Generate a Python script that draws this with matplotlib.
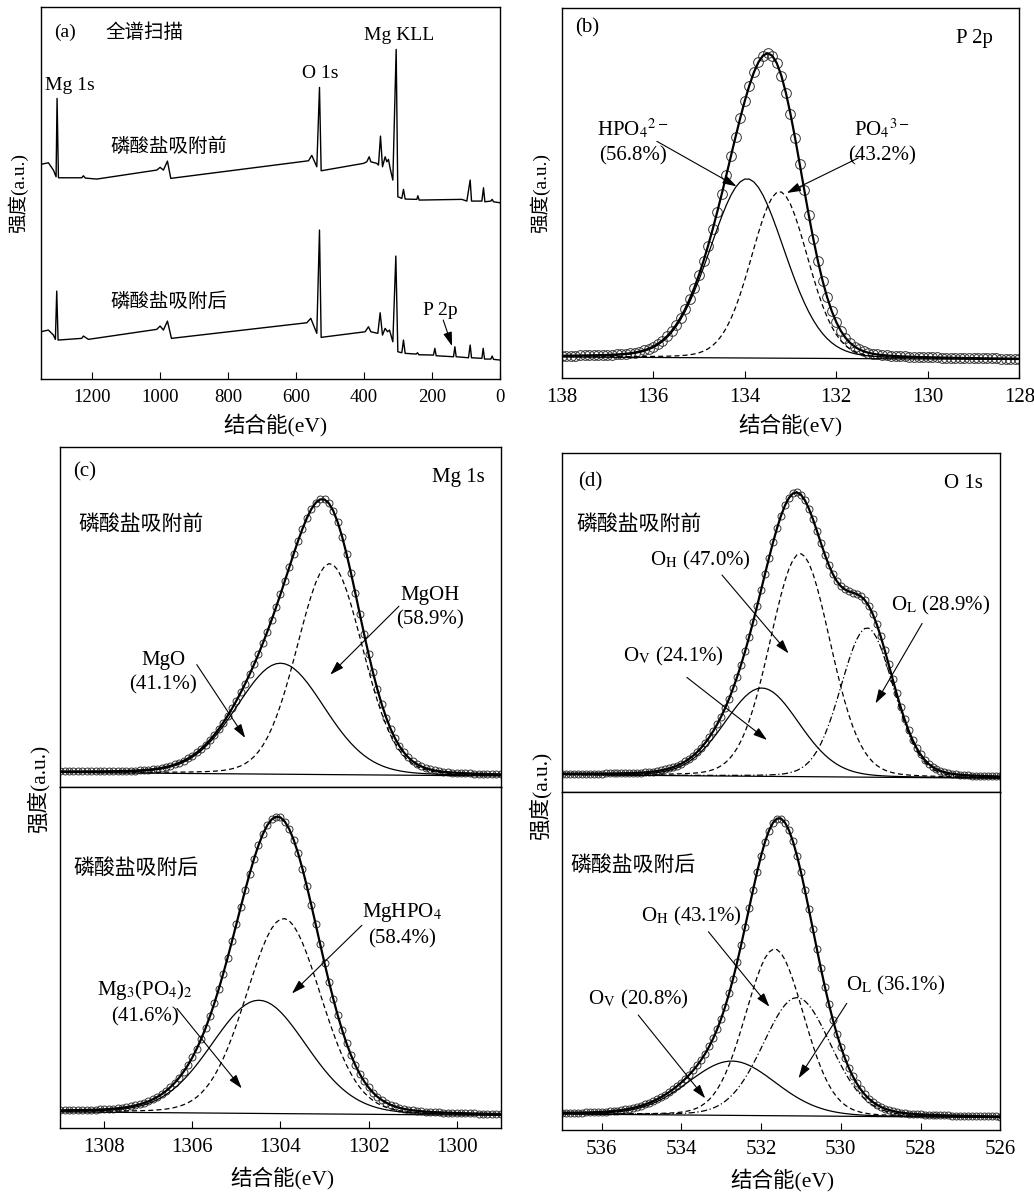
import matplotlib.pyplot as plt
import numpy as np

plt.rcParams["font.family"] = ["Liberation Serif", "Noto Sans CJK SC"]
plt.rcParams["mathtext.fontset"] = "stix"
plt.rcParams["font.size"] = 14
plt.rcParams["axes.linewidth"] = 1.0

# (a) survey spectra, vertices (eV, a.u.)
survey_before_ev = [1350, 1327.5, 1312.8, 1304.9, 1302, 1298, 1229.5, 1224.6, 1219, 1185.4,
                    1009, 999.2, 989.4, 977.6, 967.8, 563, 553.3, 538.6, 530.7, 525.8,
                    401.4, 391.6, 384.7, 379.8, 362.2, 357.3, 351.4, 345.5, 337.7, 332.8,
                    327.9, 323, 315.1, 305.3, 300.4, 288.7, 283.8, 278.9, 244.6, 241.6,
                    237.7, 112.3, 97.6, 87.8, 83.8, 53.4, 48.6, 44.6, 27, 23.1, 19.2, 0]
survey_before_int = [214.7, 216.3, 209, 202.3, 280.7, 201.3, 201.3, 203.3, 201, 200,
                     209, 211.7, 209, 218, 200.7, 218.3, 223.7, 212.3, 291.7, 208.3,
                     215.7, 217.3, 222.3, 217.3, 215.7, 214, 243, 212.3, 222.3, 217.3,
                     219.7, 210.7, 199, 329.7, 182.3, 180.7, 189.7, 180, 179.7, 183.3,
                     179, 179.7, 178, 199, 178, 178, 191.3, 177.3, 178, 179.7, 177.3, 176.3]
survey_after_ev = [1350, 1327.5, 1312.8, 1306.9, 1303, 1299, 1229.5, 1224.6, 1209.9, 1009,
                   999.2, 989.4, 977.6, 965.8, 568, 556.2, 538.6, 530.7, 525.8, 396.5,
                   386.7, 379.8, 359.2, 352.4, 345.5, 337.7, 330.8, 324.9, 315.1, 306.3,
                   300.4, 288.7, 283.8, 278.9, 246.5, 242.6, 238.7, 195.6, 191.6, 187.7,
                   136.8, 132.8, 128.9, 92.7, 87.8, 83.8, 53.4, 49.5, 45.6, 27, 23.1, 19.2, 0]
survey_after_int = [47.3, 49, 44, 39.7, 88, 39, 40.7, 43, 39.7, 49.7,
                    53, 49, 58, 40.7, 56.3, 60.7, 45.7, 149, 41.7, 47.3,
                    52.3, 47.3, 45.7, 66.3, 44, 50.7, 47.3, 49, 37.3, 123,
                    27.3, 26.3, 39, 25.7, 25, 26.3, 24.3, 24, 30.7, 23.3,
                    22.3, 32.3, 22.3, 21.3, 34, 21.3, 20.7, 30.7, 20, 20, 23, 19.7, 19]

# fitted components: centre (eV), height above background, FWHM (eV)
p2p_centre = [133.95, 133.24]
p2p_height = [179.3, 166.6]
p2p_fwhm = [1.91, 1.45]
p2p_bg = [21.0, 18.5]

mg_before_centre = [1304.0, 1302.88]
mg_before_height = [111, 211]
mg_before_fwhm = [2.35, 1.75]
mg_before_bg = [14.5, 11.0]

mg_after_centre = [1304.49, 1303.93]
mg_after_height = [113.3, 195.3]
mg_after_fwhm = [2.54, 2.0]
mg_after_bg = [16.5, 13.0]

o_before_centre = [531.98, 531.02, 529.34]
o_before_height = [88.3, 223, 149.3]
o_before_fwhm = [2.2, 1.78, 1.55]
o_before_bg = [17.0, 13.5]

o_after_centre = [532.73, 531.66, 531.1]
o_after_height = [54.3, 166.7, 118.3]
o_after_fwhm = [2.6, 1.72, 2.0]
o_after_bg = [16.0, 12.5]

LORENTZ = 0.1
DASH = (0, (4, 2.5))
DASHDOT = (0, (5, 2, 1, 2))
FS = 15  # annotation size in panels (b)-(d)


def peak(x, centre, height, fwhm):
    u = (x - centre) / fwhm
    return height * ((1 - LORENTZ) * np.exp(-4 * np.log(2) * u ** 2) + LORENTZ / (1 + 4 * u ** 2))


def draw_fit(ax, lo, hi, centres, heights, fwhms, bg, styles, ms=5):
    x = np.arange(lo, hi + 0.05, 0.1)
    base = np.interp(x, [lo, hi], [bg[1], bg[0]])
    comps = [peak(x, c, h, w) for c, h, w in zip(centres, heights, fwhms)]
    total = base + np.sum(comps, axis=0)
    ax.plot(x, total, "o", ms=ms, mfc="none", mec="#333333", mew=0.7)
    ax.plot(x, base, color="k", lw=0.9)
    for comp, ls in zip(comps, styles):
        ax.plot(x, base + comp, color="k", lw=0.9, ls=ls)
    ax.plot(x, total, color="k", lw=1.6)
    ax.set_xlim(hi, lo)


def arrow(ax, tail, head):
    ax.annotate("", xy=head, xytext=tail,
                arrowprops=dict(arrowstyle="-|>,head_length=0.7,head_width=0.22", lw=0.8,
                                color="k", mutation_scale=12, shrinkA=0, shrinkB=0))


def style(ax, ticks=True, size=15):
    ax.set_yticks([])
    ax.tick_params(axis="x", direction="in", length=5, top=False, pad=7, labelsize=size)
    if not ticks:
        ax.tick_params(axis="x", length=0, labelbottom=False)


fig = plt.figure(figsize=(10.34, 11.92), dpi=100)

# (a) survey
ax = fig.add_axes([0.0394, 0.682, 0.4442, 0.3118])
ax.plot(survey_before_ev, survey_before_int, color="k", lw=1.0)
ax.plot(survey_after_ev, survey_after_int, color="k", lw=1.0)
ax.set_xlim(1350, 0)
ax.set_ylim(0, 371.7)
ax.set_xticks([1200, 1000, 800, 600, 400, 200, 0])
style(ax, size=13.5)
ax.text(0.03, 0.933, "(a)", transform=ax.transAxes, va="center")
ax.text(0.142, 0.933, "全谱扫描", transform=ax.transAxes, va="center")
ax.text(1265, 294, "Mg 1s", ha="center", va="center")
ax.text(528, 306, "O 1s", ha="center", va="center")
ax.text(296, 344, "Mg KLL", ha="center", va="center")
ax.text(972, 232, "磷酸盐吸附前", ha="center", va="center")
ax.text(972, 77, "磷酸盐吸附后", ha="center", va="center")
ax.text(176, 69, "P 2p", ha="center", va="center")
arrow(ax, (167, 59), (141, 33))

# (b) P 2p
ax = fig.add_axes([0.5432, 0.6829, 0.4426, 0.3101])
draw_fit(ax, 128, 138, p2p_centre, p2p_height, p2p_fwhm, p2p_bg, ["-", DASH], ms=7)
ax.set_ylim(0, 369.7)
ax.set_xticks([138, 136, 134, 132, 130, 128])
style(ax)
ax.text(0.029, 0.946, "(b)", transform=ax.transAxes, va="center", fontsize=FS)
ax.text(0.943, 0.919, "P 2p", transform=ax.transAxes, va="center", ha="right", fontsize=FS)
ax.text(136.45, 237, "HPO$_4$$^{2-}$\n(56.8%)", ha="center", va="center",
        linespacing=1.35, fontsize=FS)
ax.text(131.0, 237, "PO$_4$$^{3-}$\n(43.2%)", ha="center", va="center",
        linespacing=1.35, fontsize=FS)
arrow(ax, (135.92, 236.7), (134.18, 191.7))
arrow(ax, (131.52, 220), (133.08, 185))

# (c) Mg 1s
ax = fig.add_axes([0.0583, 0.3398, 0.4259, 0.2855])
draw_fit(ax, 1299, 1309, mg_before_centre, mg_before_height, mg_before_fwhm,
         mg_before_bg, ["-", DASH])
ax.set_ylim(0, 340.3)
style(ax, ticks=False)
ax.text(0.03, 0.926, "(c)", transform=ax.transAxes, va="center", fontsize=FS)
ax.text(0.963, 0.908, "Mg 1s", transform=ax.transAxes, va="center", ha="right", fontsize=FS)
ax.text(0.041, 0.77, "磷酸盐吸附前", transform=ax.transAxes, va="center", fontsize=FS)
ax.text(1306.66, 114, "MgO\n(41.1%)", ha="center", va="center", linespacing=1.35, fontsize=FS)
ax.text(1300.6, 179, "MgOH\n(58.9%)", ha="center", va="center", linespacing=1.35, fontsize=FS)
arrow(ax, (1305.9, 122.3), (1304.8, 49))
arrow(ax, (1301.31, 180.7), (1302.87, 112.3))

ax = fig.add_axes([0.0583, 0.0534, 0.4259, 0.2863])
draw_fit(ax, 1299, 1309, mg_after_centre, mg_after_height, mg_after_fwhm,
         mg_after_bg, ["-", DASH])
ax.set_ylim(0, 341.6)
ax.set_xticks([1308, 1306, 1304, 1302, 1300])
style(ax)
ax.text(0.03, 0.759, "磷酸盐吸附后", transform=ax.transAxes, va="center", fontsize=FS)
ax.text(1307.07, 126, "Mg$_3$(PO$_4$)$_2$\n(41.6%)", ha="center", va="center",
        linespacing=1.35, fontsize=FS)
ax.text(1301.24, 204, "MgHPO$_4$\n(58.4%)", ha="center", va="center",
        linespacing=1.35, fontsize=FS)
arrow(ax, (1306.35, 120), (1304.88, 40))
arrow(ax, (1302.15, 203.3), (1303.74, 135))

# (d) O 1s
ax = fig.add_axes([0.5432, 0.3358, 0.4242, 0.2839])
draw_fit(ax, 526, 537, o_before_centre, o_before_height, o_before_fwhm,
         o_before_bg, ["-", DASH, DASHDOT])
ax.set_ylim(0, 338.4)
style(ax, ticks=False)
ax.text(0.038, 0.916, "(d)", transform=ax.transAxes, va="center", fontsize=FS)
ax.text(0.96, 0.91, "O 1s", transform=ax.transAxes, va="center", ha="right", fontsize=FS)
ax.text(0.034, 0.788, "磷酸盐吸附前", transform=ax.transAxes, va="center", fontsize=FS)
ax.text(533.53, 231.7, r"O$_\mathrm{H}$ (47.0%)", ha="center", va="center", fontsize=FS)
ax.text(534.2, 135, r"O$_\mathrm{V}$ (24.1%)", ha="center", va="center", fontsize=FS)
ax.text(527.5, 186.7, r"O$_\mathrm{L}$ (28.9%)", ha="center", va="center", fontsize=FS)
arrow(ax, (532.98, 216.7), (531.31, 138.3))
arrow(ax, (533.86, 114.3), (531.85, 51.7))
arrow(ax, (527.96, 168.3), (529.13, 88.3))

ax = fig.add_axes([0.5432, 0.052, 0.4242, 0.2838])
draw_fit(ax, 526, 537, o_after_centre, o_after_height, o_after_fwhm,
         o_after_bg, ["-", DASH, DASHDOT])
ax.set_ylim(0, 338.3)
ax.set_xticks([536, 534, 532, 530, 528, 526])
style(ax)
ax.text(0.019, 0.78, "磷酸盐吸附后", transform=ax.transAxes, va="center", fontsize=FS)
ax.text(533.74, 214, r"O$_\mathrm{H}$ (43.1%)", ha="center", va="center", fontsize=FS)
ax.text(535.08, 130.7, r"O$_\mathrm{V}$ (20.8%)", ha="center", va="center", fontsize=FS)
ax.text(528.63, 145, r"O$_\mathrm{L}$ (36.1%)", ha="center", va="center", fontsize=FS)
arrow(ax, (533.32, 198.3), (531.79, 123.3))
arrow(ax, (535.08, 115), (533.4, 31.7))
arrow(ax, (529.85, 126.7), (531.06, 51.7))

# shared axis titles
for x, y, s in [(18, 193, 14), (540, 193, 14), (38, 788, 15.5), (540, 795, 15.5)]:
    fig.text(x / 1034, 1 - y / 1192, "强度(a.u.)", rotation=90, ha="center", va="center",
             fontsize=s)
for x, y, s in [(275, 425, 15.5), (790, 425, 15.5), (282, 1178, 15.5), (782, 1180, 15.5)]:
    fig.text(x / 1034, 1 - y / 1192, "结合能(eV)", ha="center", va="center", fontsize=s)

fig.savefig("out.png", dpi=100)
